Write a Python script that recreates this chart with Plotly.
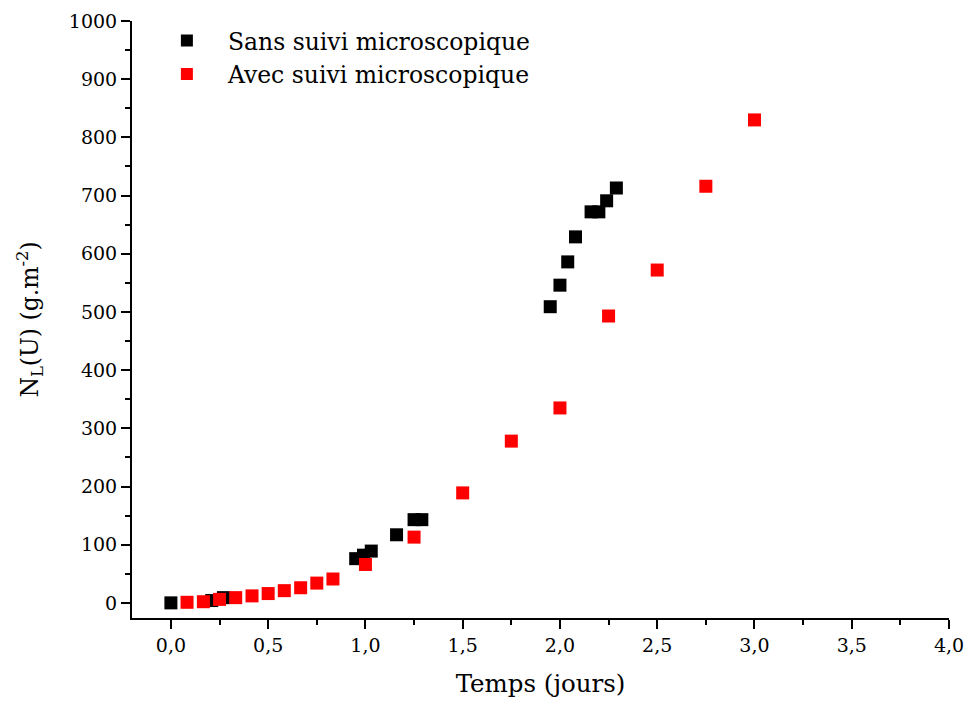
import plotly.graph_objects as go

# Sans suivi microscopique (black)
x_sans = [0.0, 0.21, 0.27, 0.95, 0.99, 1.03, 1.16, 1.25, 1.29, 1.95, 2.0, 2.04, 2.08, 2.16, 2.2, 2.24, 2.29]
y_sans = [0, 4, 9, 76, 82, 89, 117, 143, 143, 509, 546, 586, 629, 672, 672, 691, 713]

# Avec suivi microscopique (red)
x_avec = [0.083, 0.167, 0.25, 0.333, 0.417, 0.5, 0.583, 0.667, 0.75, 0.833, 1.0, 1.25, 1.5, 1.75, 2.0, 2.25, 2.5, 2.75, 3.0]
y_avec = [1, 2, 6, 9, 12, 16, 21, 26, 34, 41, 66, 113, 189, 278, 335, 493, 572, 716, 830]

x_ticks = [0.0, 0.5, 1.0, 1.5, 2.0, 2.5, 3.0, 3.5, 4.0]
x_ticklabels = ["0,0", "0,5", "1,0", "1,5", "2,0", "2,5", "3,0", "3,5", "4,0"]
y_ticks = [0, 100, 200, 300, 400, 500, 600, 700, 800, 900, 1000]

font_family = "DejaVu Serif"

fig = go.Figure()
fig.add_trace(go.Scatter(
    x=x_sans, y=y_sans, mode="markers", name="Sans suivi microscopique",
    marker=dict(symbol="square", size=13, color="black", line=dict(width=0)),
))
fig.add_trace(go.Scatter(
    x=x_avec, y=y_avec, mode="markers", name="Avec suivi microscopique",
    marker=dict(symbol="square", size=13, color="#ff0000", line=dict(width=0)),
))

fig.update_layout(
    width=965, height=711,
    margin=dict(l=132, r=16, t=21, b=93),
    plot_bgcolor="white", paper_bgcolor="white",
    font=dict(family=font_family, size=19, color="black"),
    showlegend=True,
    legend=dict(x=0.017, y=1.004, xanchor="left", yanchor="top",
                font=dict(size=23.5, family=font_family),
                bgcolor="rgba(0,0,0,0)", itemsizing="constant",
                itemwidth=72, tracegroupgap=0),
    xaxis=dict(
        range=[-0.2, 4.0], showgrid=False, zeroline=False, automargin=False,
        showline=True, linecolor="black", linewidth=2,
        ticks="outside", ticklen=9, tickwidth=2, tickcolor="black",
        tickvals=x_ticks, ticktext=x_ticklabels,
        tickfont=dict(size=19),
        minor=dict(dtick=0.25, tick0=0, ticks="outside", ticklen=5, tickwidth=2, tickcolor="black"),
        title=dict(text="Temps (jours)", font=dict(size=24.5), standoff=20),
    ),
    yaxis=dict(
        range=[-26, 1000], showgrid=False, zeroline=False, automargin=False,
        showline=True, linecolor="black", linewidth=2,
        ticks="outside", ticklen=9, tickwidth=2, tickcolor="black",
        tickvals=y_ticks, tickfont=dict(size=19),
        minor=dict(dtick=50, tick0=0, ticks="outside", ticklen=5, tickwidth=2, tickcolor="black"),
        title=dict(text="N<sub>L</sub>(U) (g.m<sup>-2</sup>)", font=dict(size=23.5), standoff=24),
    ),
)

fig.write_html(
    "out.html",
    config={"displayModeBar": False},
    post_script="document.body.style.margin='0px';document.body.style.overflow='hidden';",
)
